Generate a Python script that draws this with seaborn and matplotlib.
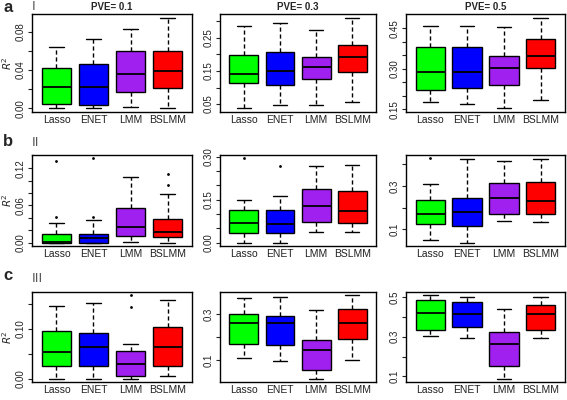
import numpy as np
import pandas as pd
import matplotlib
matplotlib.use("Agg")
import matplotlib.pyplot as plt
import seaborn as sns

sns.set_theme(style="white")
plt.rcParams['font.family'] = ['Liberation Sans', 'DejaVu Sans']

methods = ["Lasso", "ENET", "LMM", "BSLMM"]
box_colors = ["#00FF00", "#0000FF", "#A020F0", "#FF0000"]
pve_titles = ["PVE= 0.1", "PVE= 0.3", "PVE= 0.5"]
row_letters = ["a", "b", "c"]
row_numerals = ["I", "II", "III"]

# five-number summaries per method: [lower whisker, Q1, median, Q3, upper whisker]
stats_a1 = [[0.000, 0.0047, 0.022, 0.0418, 0.064], [0.000, 0.0036, 0.022, 0.0465, 0.0727],
            [0.0015, 0.0175, 0.0356, 0.0596, 0.0825], [0.000, 0.0211, 0.0396, 0.0604, 0.0949]]
stats_a2 = [[0.037, 0.113, 0.140, 0.199, 0.287], [0.048, 0.108, 0.151, 0.206, 0.294],
            [0.048, 0.126, 0.162, 0.192, 0.275], [0.055, 0.147, 0.193, 0.229, 0.311]]
stats_a3 = [[0.176, 0.221, 0.290, 0.380, 0.460], [0.172, 0.228, 0.290, 0.380, 0.460],
            [0.154, 0.240, 0.305, 0.348, 0.456], [0.185, 0.305, 0.347, 0.411, 0.490]]
stats_b1 = [[0.000, 0.000, 0.0016, 0.0146, 0.031], [0.000, 0.000, 0.0068, 0.0146, 0.0365],
            [0.001, 0.0104, 0.0245, 0.0558, 0.106], [0.000, 0.0083, 0.0177, 0.0376, 0.0783]]
stats_b2 = [[0.000, 0.032, 0.068, 0.113, 0.149], [0.000, 0.032, 0.065, 0.113, 0.161],
            [0.037, 0.071, 0.129, 0.187, 0.268], [0.037, 0.067, 0.111, 0.179, 0.272]]
stats_b3 = [[0.047, 0.1226, 0.168, 0.237, 0.3075], [0.037, 0.112, 0.180, 0.244, 0.423],
            [0.139, 0.172, 0.243, 0.315, 0.417], [0.132, 0.172, 0.229, 0.3195, 0.423]]
stats_c1 = [[0.000, 0.026, 0.054, 0.096, 0.146], [0.000, 0.026, 0.0645, 0.0916, 0.152],
            [0.000, 0.0045, 0.030, 0.056, 0.069], [0.0045, 0.026, 0.0645, 0.1045, 0.159]]
stats_c2 = [[0.111, 0.171, 0.261, 0.300, 0.370], [0.096, 0.166, 0.261, 0.294, 0.3755],
            [0.020, 0.058, 0.145, 0.187, 0.317], [0.103, 0.191, 0.261, 0.322, 0.3825]]
stats_c3 = [[0.302, 0.335, 0.421, 0.484, 0.508], [0.294, 0.351, 0.416, 0.476, 0.500],
            [0.089, 0.152, 0.262, 0.3235, 0.437], [0.294, 0.335, 0.4125, 0.461, 0.500]]

# outliers (method, value)
out_b1_method = ["Lasso", "Lasso", "ENET", "ENET", "BSLMM", "BSLMM"]
out_b1_value = [0.131, 0.041, 0.136, 0.042, 0.111, 0.0923]
out_b2_method = ["Lasso", "ENET"]
out_b2_value = [0.294, 0.268]
out_b3_method = ["Lasso"]
out_b3_value = [0.428]
out_c1_method = ["LMM", "LMM"]
out_c1_value = [0.168, 0.1445]

# y tick values and which are labelled
ticks_a1 = [0.00, 0.02, 0.04, 0.06, 0.08]; lab_a1 = ["0.00", "", "0.04", "", "0.08"]
ticks_a2 = [0.05, 0.10, 0.15, 0.20, 0.25, 0.30]; lab_a2 = ["0.05", "", "0.15", "", "0.25", ""]
ticks_a3 = [0.15, 0.20, 0.25, 0.30, 0.35, 0.40, 0.45]; lab_a3 = ["0.15", "", "", "0.30", "", "", "0.45"]
ticks_b1 = [0.00, 0.02, 0.04, 0.06, 0.08, 0.10, 0.12]; lab_b1 = ["0.00", "", "", "0.06", "", "", "0.12"]
ticks_b2 = [0.00, 0.05, 0.10, 0.15, 0.20, 0.25, 0.30]; lab_b2 = ["0.00", "", "", "0.15", "", "", "0.30"]
ticks_b3 = [0.1, 0.2, 0.3, 0.4]; lab_b3 = ["0.1", "", "0.3", ""]
ticks_c1 = [0.00, 0.05, 0.10, 0.15]; lab_c1 = ["0.00", "", "0.10", ""]
ticks_c2 = [0.1, 0.2, 0.3]; lab_c2 = ["0.1", "", "0.3"]
ticks_c3 = [0.1, 0.2, 0.3, 0.4, 0.5]; lab_c3 = ["0.1", "", "0.3", "", "0.5"]

panels = [
    [(stats_a1, [], [], ticks_a1, lab_a1), (stats_a2, [], [], ticks_a2, lab_a2), (stats_a3, [], [], ticks_a3, lab_a3)],
    [(stats_b1, out_b1_method, out_b1_value, ticks_b1, lab_b1), (stats_b2, out_b2_method, out_b2_value, ticks_b2, lab_b2),
     (stats_b3, out_b3_method, out_b3_value, ticks_b3, lab_b3)],
    [(stats_c1, out_c1_method, out_c1_value, ticks_c1, lab_c1), (stats_c2, [], [], ticks_c2, lab_c2), (stats_c3, [], [], ticks_c3, lab_c3)],
]

W, H = 567, 400
fig = plt.figure(figsize=(W / 100, H / 100), dpi=100)
fig.patch.set_facecolor("white")

col_px = [(32, 192), (220, 376), (406, 565)]
row_px = [(14, 112), (155, 246), (292, 382)]

for r in range(3):
    for c in range(3):
        stats, om, ov, ticks, labs = panels[r][c]
        x0, x1 = col_px[c]
        y0, y1 = row_px[r]
        ax = fig.add_axes([x0 / W, 1 - y1 / H, (x1 - x0) / W, (y1 - y0) / H])
        df = pd.DataFrame({"method": np.repeat(methods, 5), "value": np.concatenate(stats)})
        sns.boxplot(data=df, x="method", y="value", hue="method", order=methods, hue_order=methods,
                    palette=box_colors, width=0.8, whis=(0, 100), linecolor="black", linewidth=1.0,
                    saturation=1, legend=False, showfliers=False, ax=ax,
                    whiskerprops={"linestyle": (0, (3, 2))}, medianprops={"linewidth": 1.3})
        if len(om):
            sns.stripplot(x=om, y=ov, order=methods, jitter=False, color="black", size=2, ax=ax)
        allv = list(np.concatenate(stats)) + list(ov)
        lo, hi = min(allv), max(allv)
        pad = (hi - lo) * 0.04
        ax.set_ylim(lo - pad, hi + pad)
        ax.set_xlim(-0.66, 3.66)
        ax.set_yticks(ticks)
        ax.set_yticklabels(labs, rotation=90, va="center")
        ax.set_xticks(range(4))
        ax.set_xticklabels(methods)
        ax.set_xlabel("")
        ax.set_ylabel("$R^2$" if c == 0 else "", fontsize=7.5, labelpad=1)
        ax.tick_params(axis="y", left=True, length=3, width=0.8, direction="out", labelsize=7, pad=1.5, colors="#222222")
        ax.tick_params(axis="x", bottom=False, length=0, labelsize=7.5, pad=2.5, colors="#222222")
        for s in ax.spines.values():
            s.set_visible(True)
            s.set_color("black")
            s.set_linewidth(1.0)
        ax.set_facecolor("white")

for r in range(3):
    yc = [7, 141, 276][r]
    fig.text(3 / W, 1 - yc / H, row_letters[r], fontsize=12, fontweight="bold", va="center", ha="left")
    yn = [7, 143, 279][r]
    fig.text(32 / W, 1 - yn / H, row_numerals[r], fontsize=9.5, color="#555555", va="center", ha="left")

for c in range(3):
    x0, x1 = col_px[c]
    fig.text((x0 + x1) / 2 / W, 1 - 7 / H, pve_titles[c], fontsize=7, fontweight="bold", va="center", ha="center")

fig.savefig("out.png", dpi=100, facecolor="white")
